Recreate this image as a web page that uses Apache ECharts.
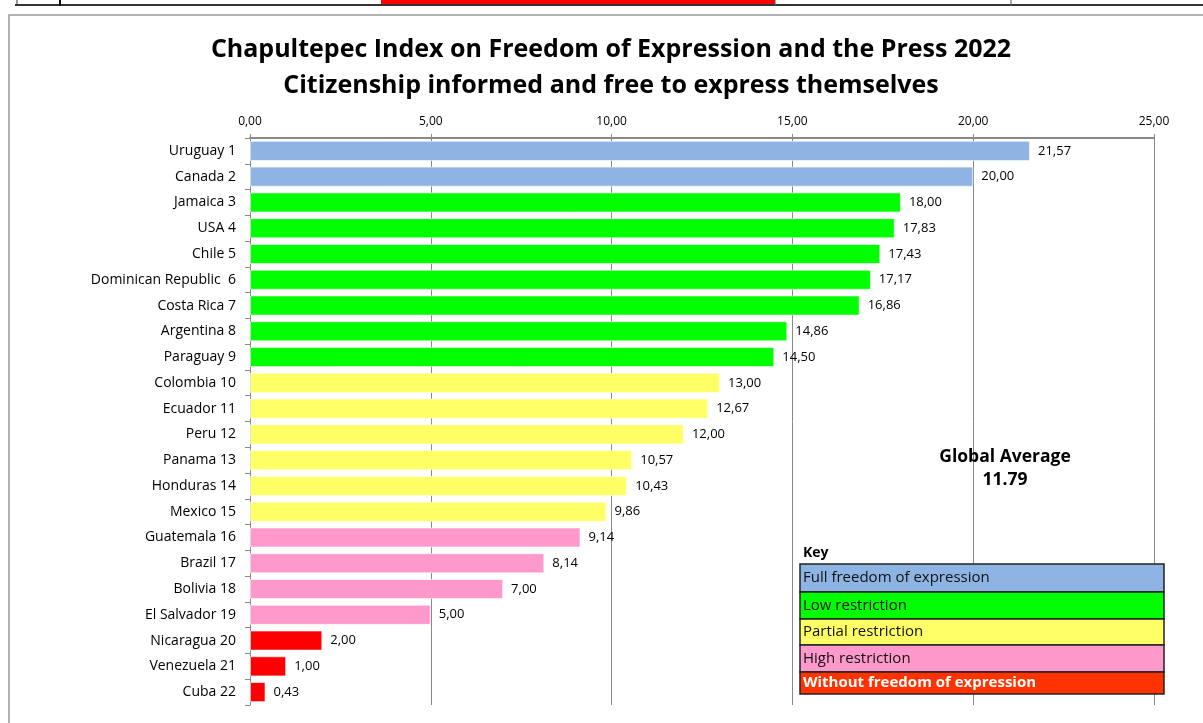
<!DOCTYPE html>
<html><head><meta charset="utf-8">
<script src="https://cdn.jsdelivr.net/npm/echarts@6/dist/echarts.min.js"></script>
<style>html,body{margin:0;padding:0;background:#fff}#c{width:1203px;height:723px}</style>
</head><body><div id="c"></div>
<script>
const categories = ["Uruguay 1","Canada 2","Jamaica 3","USA 4","Chile 5","Dominican Republic  6","Costa Rica 7","Argentina 8","Paraguay 9","Colombia 10","Ecuador 11","Peru 12","Panama 13","Honduras 14","Mexico 15","Guatemala 16","Brazil 17","Bolivia 18","El Salvador 19","Nicaragua 20","Venezuela 21","Cuba 22"];
const values = [21.57,20.00,18.00,17.83,17.43,17.17,16.86,14.86,14.50,13.00,12.67,12.00,10.57,10.43,9.86,9.14,8.14,7.00,5.00,2.00,1.00,0.43];
const groups = [0,0,1,1,1,1,1,1,1,2,2,2,2,2,2,3,3,3,3,4,4,4];
const groupNames = ["Full freedom of expression","Low restriction","Partial restriction","High restriction","Without freedom of expression"];
const barColors = ["#8EB4E3","#00FF00","#FFFF66","#FF99CC","#FF0000"];
const keyColors = ["#8EB4E3","#00FF00","#FFFF66","#FF99CC","#FF3300"];
const xTicks = [0,5,10,15,20,25];
const titleLines = ["Chapultepec Index on Freedom of Expression and the Press 2022","Citizenship informed and free to express themselves"];
const avgText = ["Global Average","11.79"];

const FONT = "'Open Sans', Lato, sans-serif";
const fmt = v => v.toFixed(2).replace('.', ',');
const chart = echarts.init(document.getElementById('c'));

const keyX = 800, keyW = 364, keyTop = 564, rowH = [28,27,26,27,22];
const keyGraphics = [];
let y = keyTop;
groupNames.forEach((n,i)=>{
  keyGraphics.push({type:'rect', shape:{x:keyX,y:y,width:keyW,height:rowH[i]}, style:{fill:keyColors[i], stroke:'#222', lineWidth:1.5}, z:10});
  keyGraphics.push({type:'text', x:keyX+3, y:y+rowH[i]/2, style:{text:n, fill:i===4?'#fff':'#111', font:(i===4?'bold ':'')+'15px '+FONT, textVerticalAlign:'middle'}, z:11});
  y += rowH[i];
});

chart.setOption({
  animation:false,
  title:{text:titleLines.join('\n'), left:606, top:27, textAlign:'center',
    textStyle:{fontFamily:FONT, fontWeight:'bold', fontSize:25, color:'#000', lineHeight:36}},
  grid:{left:250, right:49, top:138, bottom:18, containLabel:false},
  xAxis:{type:'value', position:'top', min:0, max:25, interval:5,
    axisLine:{show:true, lineStyle:{color:'#888', width:2}},
    axisTick:{show:true, length:4, lineStyle:{color:'#888'}},
    axisLabel:{formatter:v=>fmt(v), fontFamily:FONT, fontSize:12, color:'#000', margin:10},
    splitLine:{show:true, lineStyle:{color:'#888', width:1}}},
  yAxis:{type:'category', data:categories, inverse:true,
    axisLine:{show:true, lineStyle:{color:'#888', width:1}},
    axisTick:{show:true, length:5, lineStyle:{color:'#888'}},
    axisLabel:{fontFamily:FONT, fontSize:14, color:'#000', margin:14}},
  series:[{type:'bar', barCategoryGap:'22%',
    data:values.map((v,i)=>({value:v, itemStyle:{color:barColors[groups[i]], borderColor:'rgba(255,255,255,0.6)', borderWidth:1}})),
    label:{show:true, position:'right', distance:8, formatter:p=>fmt(p.value), fontFamily:FONT, fontSize:13, color:'#000'}}],
  graphic:[
    {type:'rect', shape:{x:9,y:15,width:1300,height:800}, style:{fill:'none', stroke:'#999', lineWidth:1.5}, z:-1},
    {type:'rect', shape:{x:381,y:0,width:394,height:5}, style:{fill:'#FF0000'}},
    {type:'line', shape:{x1:15,y1:5,x2:1203,y2:5}, style:{stroke:'#333', lineWidth:2}},
    {type:'line', shape:{x1:17,y1:0,x2:17,y2:6}, style:{stroke:'#333', lineWidth:1}},
    {type:'line', shape:{x1:60,y1:0,x2:60,y2:6}, style:{stroke:'#111', lineWidth:2}},
    {type:'line', shape:{x1:775,y1:0,x2:775,y2:6}, style:{stroke:'#555', lineWidth:1}},
    {type:'line', shape:{x1:1011,y1:0,x2:1011,y2:6}, style:{stroke:'#555', lineWidth:1}},
    {type:'text', x:1005, y:457, style:{text:avgText[0], font:'bold 17.5px '+FONT, fill:'#000', textAlign:'center', textVerticalAlign:'middle'}, z:10},
    {type:'text', x:1005, y:480, style:{text:avgText[1], font:'bold 17.5px '+FONT, fill:'#000', textAlign:'center', textVerticalAlign:'middle'}, z:10},
    {type:'rect', shape:{x:798,y:543,width:60,height:20}, style:{fill:'#fff'}, z:9},
    {type:'text', x:803, y:553, style:{text:'Key', font:'bold 14px '+FONT, fill:'#000', textVerticalAlign:'middle'}, z:10}
  ].concat(keyGraphics)
});
</script></body></html>
